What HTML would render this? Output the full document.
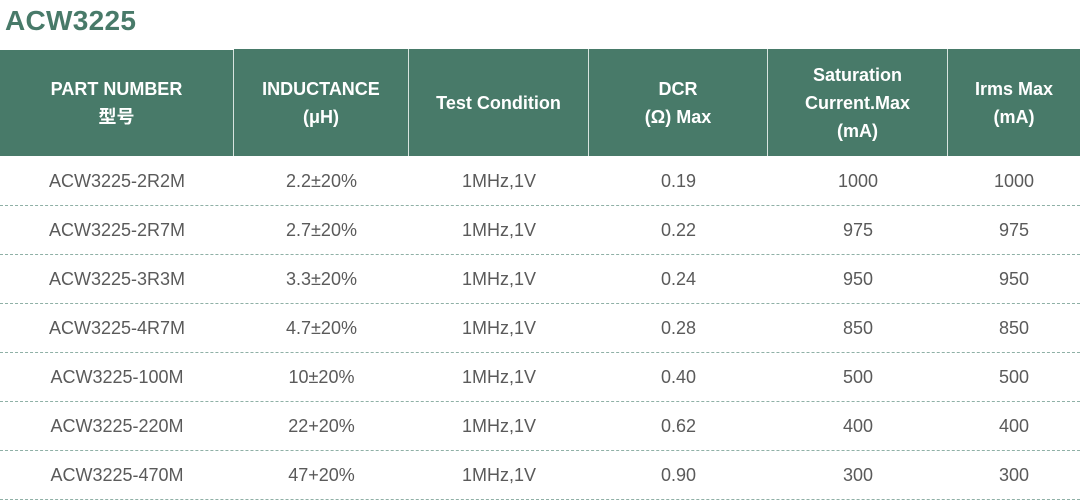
<!DOCTYPE html>
<html><head><meta charset="utf-8"><style>
body{margin:0;width:1080px;height:500px;background:#fff;overflow:hidden;font-family:"Liberation Sans","Noto Sans CJK SC",sans-serif;position:relative}
.t{position:absolute;left:5px;top:5px;font-size:28px;font-weight:bold;color:#487a69;letter-spacing:0.3px}
.h{position:absolute;top:49px;height:107px;background:#487a69;color:#fff;font-weight:bold;font-size:18px;line-height:28px;display:flex;align-items:center;justify-content:center;text-align:center;border-right:1.5px solid #d8e4df;box-sizing:border-box}
.r{position:absolute;left:0;width:1080px;height:49px;border-bottom:1px dashed #8fb0a6;box-sizing:border-box}
.c{position:absolute;top:0;height:48px;line-height:48px;text-align:center;font-size:18px;color:#5a5a5a;font-weight:300}
</style></head><body>
<div class="t">ACW3225</div>
<div class="h" style="left:0;width:234px;top:50px;height:106px">PART NUMBER<br>型号</div>
<div class="h" style="left:234px;width:175px">INDUCTANCE<br>(μH)</div>
<div class="h" style="left:409px;width:180px">Test Condition</div>
<div class="h" style="left:589px;width:179px">DCR<br>(Ω) Max</div>
<div class="h" style="left:768px;width:180px">Saturation<br>Current.Max<br>(mA)</div>
<div class="h" style="left:948px;width:132px;border-right:none">Irms Max<br>(mA)</div>
<div class="r" style="top:157px"><div class="c" style="left:0;width:234px">ACW3225-2R2M</div><div class="c" style="left:234px;width:175px">2.2±20%</div><div class="c" style="left:409px;width:180px">1MHz,1V</div><div class="c" style="left:589px;width:179px">0.19</div><div class="c" style="left:768px;width:180px">1000</div><div class="c" style="left:948px;width:132px">1000</div></div>
<div class="r" style="top:206px"><div class="c" style="left:0;width:234px">ACW3225-2R7M</div><div class="c" style="left:234px;width:175px">2.7±20%</div><div class="c" style="left:409px;width:180px">1MHz,1V</div><div class="c" style="left:589px;width:179px">0.22</div><div class="c" style="left:768px;width:180px">975</div><div class="c" style="left:948px;width:132px">975</div></div>
<div class="r" style="top:255px"><div class="c" style="left:0;width:234px">ACW3225-3R3M</div><div class="c" style="left:234px;width:175px">3.3±20%</div><div class="c" style="left:409px;width:180px">1MHz,1V</div><div class="c" style="left:589px;width:179px">0.24</div><div class="c" style="left:768px;width:180px">950</div><div class="c" style="left:948px;width:132px">950</div></div>
<div class="r" style="top:304px"><div class="c" style="left:0;width:234px">ACW3225-4R7M</div><div class="c" style="left:234px;width:175px">4.7±20%</div><div class="c" style="left:409px;width:180px">1MHz,1V</div><div class="c" style="left:589px;width:179px">0.28</div><div class="c" style="left:768px;width:180px">850</div><div class="c" style="left:948px;width:132px">850</div></div>
<div class="r" style="top:353px"><div class="c" style="left:0;width:234px">ACW3225-100M</div><div class="c" style="left:234px;width:175px">10±20%</div><div class="c" style="left:409px;width:180px">1MHz,1V</div><div class="c" style="left:589px;width:179px">0.40</div><div class="c" style="left:768px;width:180px">500</div><div class="c" style="left:948px;width:132px">500</div></div>
<div class="r" style="top:402px"><div class="c" style="left:0;width:234px">ACW3225-220M</div><div class="c" style="left:234px;width:175px">22+20%</div><div class="c" style="left:409px;width:180px">1MHz,1V</div><div class="c" style="left:589px;width:179px">0.62</div><div class="c" style="left:768px;width:180px">400</div><div class="c" style="left:948px;width:132px">400</div></div>
<div class="r" style="top:451px"><div class="c" style="left:0;width:234px">ACW3225-470M</div><div class="c" style="left:234px;width:175px">47+20%</div><div class="c" style="left:409px;width:180px">1MHz,1V</div><div class="c" style="left:589px;width:179px">0.90</div><div class="c" style="left:768px;width:180px">300</div><div class="c" style="left:948px;width:132px">300</div></div>
</body></html>
